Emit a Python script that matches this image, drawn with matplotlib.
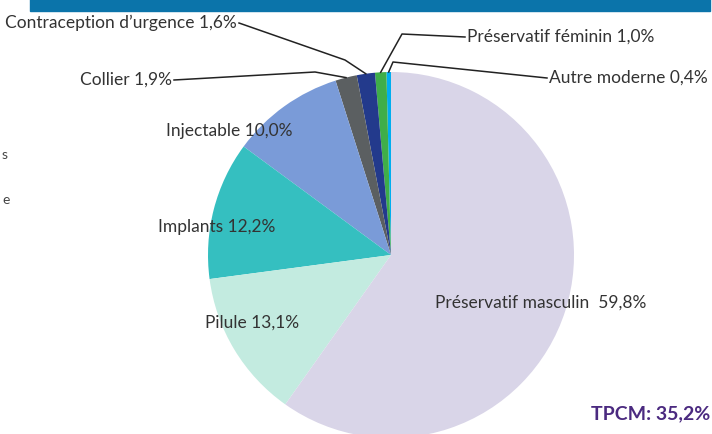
import numpy as np
import matplotlib.pyplot as plt

# parts of modern contraception (%), counterclockwise from the top
methods = ["Autre moderne", "Préservatif féminin", "Contraception d’urgence", "Collier",
           "Injectable", "Implants", "Pilule", "Préservatif masculin"]
shares = [0.4, 1.0, 1.6, 1.9, 10.0, 12.2, 13.1, 59.8]
shares_txt = ["0,4%", "1,0%", "1,6%", "1,9%", "10,0%", "12,2%", "13,1%", "59,8%"]
colors = ["#00aeef", "#3fae49", "#233a8c", "#5b5f61", "#7a9bd8", "#35bfc0", "#c3ebe0", "#d9d5e8"]
tpcm = "TPCM: 35,2%"

plt.rcParams['font.family'] = ['Lato', 'DejaVu Sans']

W, H = 712, 435
fig = plt.figure(figsize=(W / 100, H / 100), dpi=100)
ax = fig.add_axes([0, 0, 1, 1])


def py(y):
    # pixel row (from top) -> data y
    return H - y


cx, cy, r = 391, 256, 183
wedges, _ = ax.pie(shares, colors=colors, startangle=90, counterclock=True,
                   center=(cx, py(cy)), radius=r, frame=True,
                   wedgeprops=dict(linewidth=0))
ax.set_xlim(0, W)
ax.set_ylim(0, H)
ax.set_aspect('equal')
ax.axis('off')

# header bar (cut at top)
ax.add_patch(plt.Rectangle((30, py(12)), 680, 12, color="#0b74aa", zorder=1))

txt_col = "#333333"
fs = 12.5

# labels outside with leader lines: (text x, text y, ha, elbow x, elbow y)
outside = {
    "Contraception d’urgence": (237, 23, 'right', 345, 61),
    "Préservatif féminin": (467, 37, 'left', 402, 35),
    "Autre moderne": (549, 78, 'left', 393, 63),
    "Collier": (172, 80, 'right', 315, 73),
}
inside = {
    "Injectable": (166, 131),
    "Implants": (158, 227),
    "Pilule": (205, 323),
    "Préservatif masculin": (435, 303),
}

for i, (w, m) in enumerate(zip(wedges, methods)):
    label = m + " " + shares_txt[i]
    if m == "Préservatif masculin":
        label = m + "  " + shares_txt[i]
    if m in outside:
        tx, ty, ha, ex, ey = outside[m]
        mid = np.deg2rad((w.theta1 + w.theta2) / 2)
        px, pyy = cx + r * np.cos(mid), py(cy) + r * np.sin(mid)
        sx = tx + 2 if ha == 'right' else tx - 2
        ax.plot([sx, ex, px], [py(ty + 1), py(ey), pyy], color="#222222", lw=1.1, zorder=3)
        ax.text(tx, py(ty), label, ha=ha, va='center', fontsize=fs, color=txt_col)
    else:
        tx, ty = inside[m]
        ax.text(tx, py(ty), label, ha='left', va='center', fontsize=fs, color=txt_col)

ax.text(710, py(414), tpcm, ha='right', va='center', fontsize=14, fontweight='bold', color="#4b2a80")

# cut-off text at the left edge
ax.text(2, py(155), "s", ha='left', va='center', fontsize=10, color="#444444")
ax.text(2, py(200), "e", ha='left', va='center', fontsize=10, color="#444444")

fig.savefig("out.png", dpi=100)
